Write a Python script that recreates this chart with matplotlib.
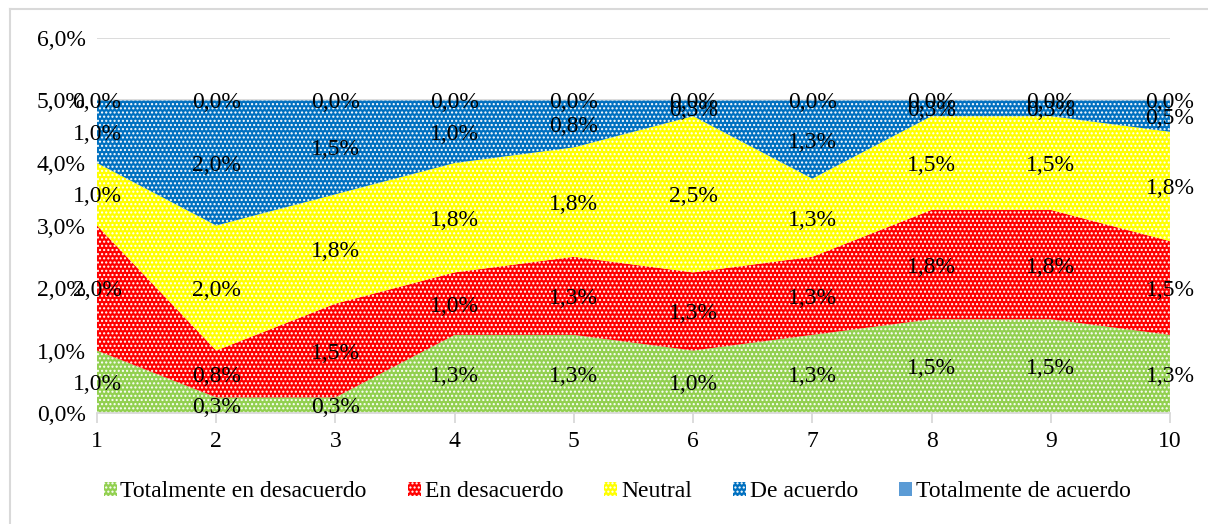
import numpy as np
import matplotlib.pyplot as plt
from matplotlib.patches import Patch
from matplotlib.lines import Line2D

plt.rcParams['font.family'] = ['Liberation Serif', 'DejaVu Serif']
plt.rcParams['hatch.linewidth'] = 1.0

# data (percent)
points = [1, 2, 3, 4, 5, 6, 7, 8, 9, 10]
tot_desacuerdo = [1.0, 0.25, 0.25, 1.25, 1.25, 1.0, 1.25, 1.5, 1.5, 1.25]
en_desacuerdo = [2.0, 0.75, 1.5, 1.0, 1.25, 1.25, 1.25, 1.75, 1.75, 1.5]
neutral = [1.0, 2.0, 1.75, 1.75, 1.75, 2.5, 1.25, 1.5, 1.5, 1.75]
de_acuerdo = [1.0, 2.0, 1.5, 1.0, 0.75, 0.25, 1.25, 0.25, 0.25, 0.5]
tot_acuerdo = [0.0, 0.0, 0.0, 0.0, 0.0, 0.0, 0.0, 0.0, 0.0, 0.0]

names = ['Totalmente en desacuerdo', 'En desacuerdo', 'Neutral',
         'De acuerdo', 'Totalmente de acuerdo']
colors = ['#92D050', '#FF0000', '#FFFF00', '#0070C0', '#5B9BD5']
series = [tot_desacuerdo, en_desacuerdo, neutral, de_acuerdo, tot_acuerdo]

fs = 17

fig = plt.figure(figsize=(12.08, 5.24), dpi=100)
ax = fig.add_axes([0.0803, 0.2118, 0.8882, 0.7157])

x = np.array(points)
base = np.zeros(len(x))
for vals, c in zip(series, colors):
    top = base + np.array(vals)
    ax.fill_between(x, base, top, facecolor=c, edgecolor='white',
                    linewidth=0, hatch='....', zorder=2)
    for xi, b, v in zip(x, base, vals):
        lbl = ('%.1f%%' % (v + 1e-9)).replace('.', ',')
        ax.text(xi, b + v / 2 - 0.04, lbl, ha='center', va='center',
                fontsize=fs, color='black', zorder=5)
    base = top

ax.set_xlim(1, 10)
ax.set_ylim(0, 6)
ax.set_yticks(np.arange(0, 7, 1))
ax.set_yticklabels([('%.1f%%' % v).replace('.', ',') for v in range(7)])
ax.set_xticks(points)
ax.set_xticklabels([str(p) for p in points])
ax.yaxis.grid(True, color='#d9d9d9', linewidth=1.3, zorder=0)
ax.set_axisbelow(True)
for s in ['left', 'right', 'top']:
    ax.spines[s].set_visible(False)
ax.spines['bottom'].set_color('#d9d9d9')
ax.spines['bottom'].set_linewidth(1.3)
ax.spines['bottom'].set_zorder(3)
ax.tick_params(axis='y', length=0, labelsize=fs, pad=8)
ax.tick_params(axis='x', length=7, width=1.3, color='#d9d9d9',
               labelsize=fs, pad=6)

handles = [Patch(facecolor=c, edgecolor='white', linewidth=0, hatch='....')
           for c in colors[:4]]
handles.append(Patch(facecolor=colors[4], edgecolor=colors[4], linewidth=0))
fig.legend(handles, names, loc='center', bbox_to_anchor=(0.511, 0.062),
           ncol=5, frameon=False, fontsize=fs, handlelength=0.55,
           handleheight=0.55, handletextpad=0.15, columnspacing=1.75)

# chart border
fig.add_artist(Line2D([10 / 1208, 10 / 1208], [1 - 9 / 524, 0],
                      color='#d9d9d9', linewidth=1.5, transform=fig.transFigure))
fig.add_artist(Line2D([10 / 1208, 1], [1 - 9 / 524, 1 - 9 / 524],
                      color='#d9d9d9', linewidth=1.5, transform=fig.transFigure))

fig.savefig('out.png', dpi=100)
